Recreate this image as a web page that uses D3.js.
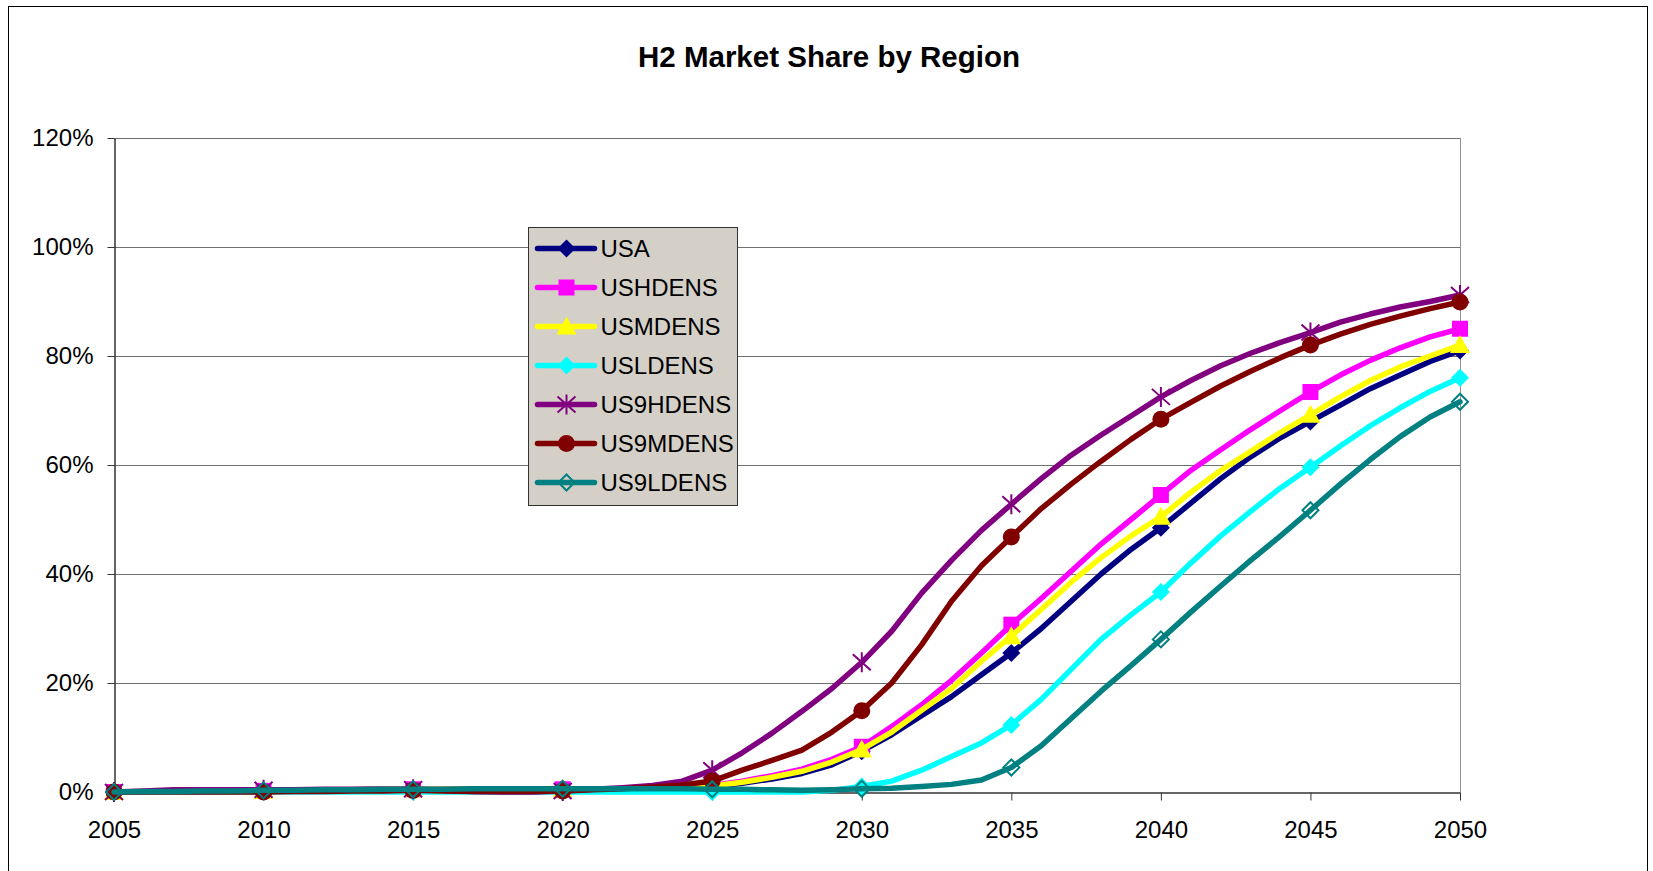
<!DOCTYPE html>
<html>
<head>
<meta charset="utf-8">
<script src="https://cdn.jsdelivr.net/npm/d3@7"></script>
<style>
  body { margin: 0; background: #fff; }
  text { font-family: Arial, "Liberation Sans", sans-serif; }
</style>
</head>
<body>
<div id="chart"></div>
<script>
// yearly values 2005..2050
const years = d3.range(2005, 2051);
const tickYears = [2005, 2010, 2015, 2020, 2025, 2030, 2035, 2040, 2045, 2050];
const yTicks = [0, 0.2, 0.4, 0.6, 0.8, 1.0, 1.2];

const usa = [0, 0, 0, 0.001, 0.001, 0.002, 0.003, 0.004, 0.004, 0.005, 0.005, 0.005, 0.005, 0.005, 0.005, 0.005, 0.005, 0.006, 0.007, 0.008,
  0.01, 0.016, 0.024, 0.034, 0.05, 0.075, 0.105, 0.14, 0.175, 0.215, 0.255, 0.3, 0.35, 0.4, 0.445, 0.485, 0.53, 0.575, 0.615, 0.65, 0.68, 0.71, 0.74, 0.765, 0.79, 0.81];
const ushdens = [0, 0, 0, 0.001, 0.001, 0.002, 0.003, 0.004, 0.004, 0.005, 0.005, 0.005, 0.005, 0.005, 0.005, 0.005, 0.005, 0.006, 0.007, 0.009,
  0.012, 0.02, 0.03, 0.042, 0.06, 0.083, 0.12, 0.16, 0.205, 0.255, 0.307, 0.355, 0.405, 0.455, 0.5, 0.545, 0.59, 0.628, 0.665, 0.7, 0.734, 0.765, 0.792, 0.815, 0.835, 0.85];
const usmdens = [0, 0, 0, 0.001, 0.001, 0.002, 0.003, 0.004, 0.004, 0.005, 0.005, 0.005, 0.005, 0.005, 0.005, 0.005, 0.005, 0.006, 0.007, 0.008,
  0.011, 0.018, 0.027, 0.038, 0.055, 0.078, 0.11, 0.15, 0.19, 0.24, 0.286, 0.335, 0.385, 0.43, 0.47, 0.505, 0.55, 0.59, 0.625, 0.66, 0.692, 0.725, 0.755, 0.78, 0.8, 0.82];
const usldens = [0, 0, 0, 0, 0, 0, 0, 0, 0, 0, 0, 0, 0, 0, 0, 0, 0, 0, 0, 0,
  0, 0, 0, 0, 0.003, 0.01, 0.02, 0.04, 0.065, 0.09, 0.123, 0.17, 0.225, 0.28, 0.325, 0.367, 0.42, 0.47, 0.515, 0.558, 0.596, 0.635, 0.672, 0.705, 0.735, 0.76];
const us9hdens = [0, 0.002, 0.004, 0.004, 0.004, 0.004, 0.004, 0.005, 0.005, 0.005, 0.005, 0.003, 0.001, 0, 0, 0.002, 0.005, 0.008, 0.012, 0.02,
  0.04, 0.072, 0.108, 0.148, 0.19, 0.238, 0.295, 0.365, 0.425, 0.48, 0.528, 0.575, 0.618, 0.655, 0.69, 0.725, 0.755, 0.782, 0.805, 0.825, 0.843, 0.862, 0.877, 0.89, 0.9, 0.912];
const us9mdens = [0, 0, 0, 0, 0, 0, 0.001, 0.001, 0.002, 0.002, 0.003, 0.002, 0.001, 0.001, 0.001, 0.002, 0.004, 0.006, 0.009, 0.013,
  0.02, 0.04, 0.058, 0.077, 0.11, 0.149, 0.2, 0.27, 0.35, 0.415, 0.468, 0.52, 0.565, 0.607, 0.647, 0.684, 0.715, 0.745, 0.772, 0.797, 0.82, 0.84, 0.858, 0.873, 0.887, 0.899];
const us9ldens = [0, 0.001, 0.001, 0.002, 0.002, 0.003, 0.003, 0.004, 0.004, 0.005, 0.005, 0.005, 0.006, 0.006, 0.006, 0.006, 0.006, 0.006, 0.006, 0.006,
  0.005, 0.005, 0.004, 0.003, 0.004, 0.006, 0.007, 0.01, 0.014, 0.022, 0.045, 0.085, 0.135, 0.185, 0.232, 0.28, 0.33, 0.378, 0.425, 0.47, 0.517, 0.565, 0.61, 0.652, 0.688, 0.716];

const seriesNames = ['USA', 'USHDENS', 'USMDENS', 'USLDENS', 'US9HDENS', 'US9MDENS', 'US9LDENS'];
const seriesValues = [usa, ushdens, usmdens, usldens, us9hdens, us9mdens, us9ldens];
const seriesColors = ['#000080', '#FF00FF', '#FFFF00', '#00FFFF', '#800080', '#800000', '#008080'];
const seriesMarkers = ['diamond', 'square', 'triangle', 'diamond', 'star', 'circle', 'hollowDiamond'];

var svgWidth = 1653;
var svgHeight = 871;
var plotLeft = 114, plotRight = 1460, plotTop = 138, plotBottom = 792;

var svg = d3.select('#chart')
  .append('svg')
  .attr('width', svgWidth)
  .attr('height', svgHeight);

// outer chart border
svg.append('rect')
  .attr('x', 8.5).attr('y', 6.5)
  .attr('width', 1639).attr('height', 880)
  .attr('fill', '#fff')
  .attr('stroke', '#000')
  .attr('stroke-width', 1);

svg.append('text')
  .attr('x', 829).attr('y', 67)
  .attr('text-anchor', 'middle')
  .attr('font-size', 29.5)
  .attr('font-weight', 'bold')
  .text('H2 Market Share by Region');

var xscale = d3.scaleLinear().domain([2005, 2050]).range([plotLeft, plotRight]);
var yscale = d3.scaleLinear().domain([0, 1.2]).range([plotBottom, plotTop]);

// gridlines
svg.append('g')
  .selectAll('line')
  .data(yTicks.filter(d => d > 0))
  .join('line')
  .attr('x1', plotLeft).attr('x2', plotRight)
  .attr('y1', d => Math.round(yscale(d)) + 0.5)
  .attr('y2', d => Math.round(yscale(d)) + 0.5)
  .attr('stroke', '#707070');

// right border of plot
svg.append('line')
  .attr('x1', plotRight + 0.5).attr('x2', plotRight + 0.5)
  .attr('y1', plotTop).attr('y2', plotBottom)
  .attr('stroke', '#909090');

var xaxis = d3.axisBottom(xscale)
  .tickValues(tickYears)
  .tickFormat(d3.format('d'))
  .tickSize(8)
  .tickSizeOuter(0)
  .tickPadding(20);

var yaxis = d3.axisLeft(yscale)
  .tickValues(yTicks)
  .tickFormat(d3.format('.0%'))
  .tickSize(7)
  .tickSizeOuter(0)
  .tickPadding(14);

var gx = svg.append('g')
  .attr('transform', 'translate(0,' + (plotBottom + 0.5) + ')')
  .call(xaxis);
var gy = svg.append('g')
  .attr('transform', 'translate(' + (plotLeft + 0.5) + ',0)')
  .call(yaxis);

[gx, gy].forEach(g => {
  g.select('.domain').attr('stroke', '#333').attr('stroke-width', 1.5);
  g.selectAll('.tick line').attr('stroke', '#333');
  g.selectAll('text').attr('font-size', 24).attr('fill', '#000')
    .attr('font-family', 'Arial, "Liberation Sans", sans-serif');
});

function markerPath(kind) {
  if (kind === 'diamond') return 'M0,-9L9,0L0,9L-9,0Z';
  if (kind === 'hollowDiamond') return 'M0,-8L8,0L0,8L-8,0Z';
  if (kind === 'square') return 'M-8,-8H8V8H-8Z';
  if (kind === 'triangle') return 'M0,-10L10,8L-10,8Z';
  if (kind === 'star') return 'M0,-10V10M-9,-8L9,8M-9,8L9,-8';
  return null;
}

function drawMarker(g, kind, color) {
  if (kind === 'circle') {
    g.append('circle').attr('r', 8.5).attr('fill', color);
  } else if (kind === 'star' || kind === 'hollowDiamond') {
    g.append('path').attr('d', markerPath(kind)).attr('fill', 'none')
      .attr('stroke', color).attr('stroke-width', 2);
  } else {
    g.append('path').attr('d', markerPath(kind)).attr('fill', color);
  }
}

var line = d3.line()
  .x((d, i) => xscale(years[i]))
  .y(d => yscale(d));

seriesValues.forEach((vals, s) => {
  var g = svg.append('g');
  g.append('path')
    .datum(vals)
    .attr('d', line)
    .attr('fill', 'none')
    .attr('stroke', seriesColors[s])
    .attr('stroke-width', 5.5)
    .attr('stroke-linejoin', 'round')
    .attr('stroke-linecap', 'round');

  years.forEach((yr, i) => {
    if (tickYears.indexOf(yr) < 0) return;
    var m = g.append('g')
      .attr('transform', 'translate(' + xscale(yr) + ',' + yscale(vals[i]) + ')');
    drawMarker(m, seriesMarkers[s], seriesColors[s]);
  });
});

// legend
var legend = svg.append('g').attr('transform', 'translate(528.5,227.5)');
legend.append('rect')
  .attr('width', 209).attr('height', 278)
  .attr('fill', '#D4D0C8')
  .attr('stroke', '#333');

seriesNames.forEach((name, s) => {
  var row = legend.append('g').attr('transform', 'translate(0,' + (21 + s * 39) + ')');
  row.append('line')
    .attr('x1', 9).attr('x2', 66)
    .attr('stroke', seriesColors[s])
    .attr('stroke-width', 5.5)
    .attr('stroke-linecap', 'round');
  var m = row.append('g').attr('transform', 'translate(38,0)');
  drawMarker(m, seriesMarkers[s], seriesColors[s]);
  row.append('text')
    .attr('x', 72).attr('dy', '0.36em')
    .attr('font-size', 24)
    .text(name);
});
</script>
</body>
</html>
